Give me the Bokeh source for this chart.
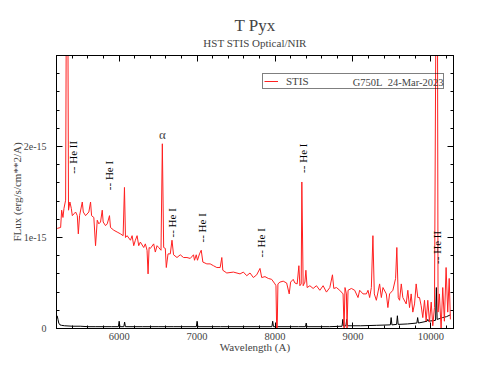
import math
from bokeh.plotting import figure
from bokeh.models import (Range1d, LinearAxis, FixedTicker, Label, Title, Legend,
                          LegendItem, CustomJSTickFormatter)
from bokeh.core.properties import value
from bokeh.embed import file_html
from bokeh.resources import INLINE

# ---------------- data (flux in units of 1e-15 erg/s/cm^2/A) ----------------
wave = [5205, 5249, 5262, 5279, 5292, 5313, 5326, 5338, 5350, 5368,
        5386, 5399, 5420, 5441, 5463, 5476, 5492, 5527, 5540, 5569,
        5611, 5633, 5646, 5675, 5697, 5719, 5739, 5761, 5783, 5795,
        5825, 5847, 5876, 5889, 5931, 5974, 6017, 6051, 6068, 6081,
        6102, 6145, 6166, 6187, 6208, 6230, 6251, 6272, 6315, 6336,
        6358, 6371, 6384, 6400, 6443, 6464, 6486, 6507, 6537, 6554,
        6571, 6592, 6605, 6627, 6656, 6678, 6698, 6742, 6784, 6826,
        6870, 6912, 6954, 6967, 6989, 7005, 7031, 7053, 7074, 7125,
        7168, 7210, 7253, 7296, 7317, 7330, 7381, 7466, 7551, 7594,
        7637, 7679, 7722, 7765, 7807, 7829, 7871, 7914, 7957, 7999,
        8012, 8021, 8028, 8037, 8063, 8105, 8149, 8182, 8200, 8233,
        8255, 8284, 8306, 8319, 8336, 8344, 8361, 8383, 8396, 8412,
        8447, 8489, 8532, 8575, 8617, 8660, 8703, 8737, 8754, 8788,
        8830, 8873, 8886, 8898, 8916, 8924, 8937, 8980, 9022, 9065,
        9086, 9129, 9172, 9193, 9214, 9236, 9256, 9274, 9300, 9342,
        9364, 9385, 9428, 9448, 9470, 9512, 9547, 9563, 9581, 9598,
        9620, 9640, 9683, 9704, 9726, 9747, 9768, 9790, 9811, 9832,
        9854, 9875, 9896, 9918, 9939, 9960, 9982, 10004, 10024, 10046,
        10070, 10082, 10092, 10109, 10131, 10152, 10173, 10195, 10216, 10235,
        10250]
flux = [1.10, 1.11, 1.30, 1.22, 1.32, 1.41, 4.50, 4.50, 1.30, 1.39,
        1.32, 1.24, 1.26, 1.28, 1.24, 1.04, 1.24, 1.39, 1.28, 1.24,
        1.28, 1.39, 1.24, 1.22, 0.91, 1.19, 1.15, 1.17, 1.30, 1.17,
        1.13, 1.15, 1.24, 1.11, 1.08, 1.06, 1.04, 1.02, 1.55, 1.00,
        1.02, 0.97, 1.02, 0.91, 0.97, 1.02, 0.91, 0.95, 0.89, 0.93,
        0.86, 0.60, 0.89, 0.88, 0.93, 0.84, 0.91, 0.89, 0.86, 2.03,
        0.89, 0.88, 0.67, 0.82, 0.82, 0.97, 0.81, 0.78, 0.81, 0.78,
        0.78, 0.77, 0.81, 0.75, 0.81, 0.75, 0.82, 0.86, 0.73, 0.71,
        0.71, 0.69, 0.67, 0.67, 0.78, 0.64, 0.61, 0.62, 0.60, 0.62,
        0.58, 0.61, 0.56, 0.59, 0.66, 0.56, 0.57, 0.55, 0.54, 0.49,
        0.47, 0.00, 0.00, 0.49, 0.51, 0.52, 0.50, 0.38, 0.51, 0.54,
        0.50, 0.49, 0.69, 0.47, 0.49, 1.61, 0.47, 0.51, 0.64, 0.45,
        0.47, 0.44, 0.47, 0.42, 0.47, 0.40, 0.45, 0.59, 0.44, 0.45,
        0.42, 0.38, 0.00, 0.45, 0.38, 0.00, 0.42, 0.44, 0.42, 0.34,
        0.42, 0.38, 0.38, 0.42, 0.34, 0.45, 1.02, 0.38, 0.31, 0.49,
        0.34, 0.45, 0.38, 0.23, 0.38, 0.42, 0.55, 0.89, 0.34, 0.31,
        0.49, 0.34, 0.27, 0.42, 0.23, 0.38, 0.18, 0.27, 0.49, 0.34,
        0.34, 0.25, 0.12, 0.31, 0.08, 0.31, 0.07, 0.29, 0.03, 0.23,
        4.50, 4.50, 0.18, 0.38, 0.00, 0.45, 0.08, 0.67, 0.18, 0.55,
        0.10]

err_wave = [5205, 5215, 5225, 5240, 5260, 5300, 5400, 5500, 5600, 5700,
            5800, 5900, 5990, 6000, 6010, 6060, 6070, 6080, 6300, 6500,
            6700, 6990, 7000, 7010, 7300, 7600, 7960, 7970, 7980, 8300,
            8390, 8400, 8410, 8700, 8860, 8870, 8880, 8910, 8920, 8930,
            9100, 9300, 9480, 9490, 9500, 9560, 9570, 9580, 9700, 9820,
            9830, 9840, 9950, 9960, 9970, 10060, 10070, 10080, 10150, 10200,
            10250]
err_flux = [0.14, 0.10, 0.06, 0.04, 0.035, 0.03, 0.025, 0.025, 0.02, 0.02,
            0.02, 0.02, 0.02, 0.08, 0.02, 0.02, 0.07, 0.02, 0.02, 0.02,
            0.02, 0.02, 0.08, 0.02, 0.02, 0.02, 0.02, 0.08, 0.02, 0.02,
            0.02, 0.06, 0.02, 0.02, 0.025, 0.10, 0.025, 0.03, 0.10, 0.03,
            0.03, 0.035, 0.04, 0.12, 0.04, 0.045, 0.14, 0.045, 0.05, 0.06,
            0.12, 0.06, 0.08, 0.10, 0.08, 0.09, 0.45, 0.10, 0.12, 0.13,
            0.15]

line_names = ["-- He II", "-- He I", "-- He I", "-- He I", "-- He I", "-- He I", "-- He II"]
line_waves = [5411, 5876, 6678, 7065, 7816, 8361, 10080]
label_y = [1.70, 1.52, 1.00, 0.945, 0.78, 1.71, 0.71]

x_major = [6000, 7000, 8000, 9000, 10000]
x_minor = list(range(5200, 10400, 200))
y_major = [0, 1, 2]
y_minor = [round(0.2 * i, 1) for i in range(16)]

FONT = "Liberation Serif"

p = figure(width=484, height=374, output_backend="svg", toolbar_location=None,
           title=None, x_range=Range1d(5196, 10290), y_range=Range1d(0, 3.0),
           min_border_left=56, min_border_right=31, min_border_top=55,
           min_border_bottom=46, x_axis_type=None, y_axis_type=None)
p.xgrid.visible = False
p.ygrid.visible = False
p.outline_line_color = "black"
p.background_fill_color = "white"
p.border_fill_color = "white"

xt = FixedTicker(ticks=x_major, minor_ticks=x_minor)
yt = FixedTicker(ticks=y_major, minor_ticks=y_minor)
yfmt = CustomJSTickFormatter(code="return tick == 0 ? '0' : tick.toFixed(0) + 'e-15';")
blank = CustomJSTickFormatter(code="return '';")


def style_axis(ax, show_labels):
    ax.major_tick_in = 6
    ax.major_tick_out = 0
    ax.minor_tick_in = 3
    ax.minor_tick_out = 0
    ax.axis_line_color = "black"
    ax.major_tick_line_color = "black"
    ax.minor_tick_line_color = "black"
    ax.major_label_text_font = FONT
    ax.axis_label_text_font = FONT
    ax.axis_label_text_font_style = "normal"
    ax.major_label_text_font_size = "10.5px"
    ax.axis_label_text_font_size = "11px"
    if not show_labels:
        ax.formatter = blank
        ax.major_label_text_color = None
        ax.major_label_standoff = 0
        ax.axis_label = None


bottom = LinearAxis(ticker=xt, axis_label="Wavelength (A)")
style_axis(bottom, True)
bottom.major_label_standoff = 4
bottom.axis_label_standoff = -2
p.add_layout(bottom, "below")

left = LinearAxis(ticker=yt, formatter=yfmt, axis_label="FLux (erg/s/cm**2/A)")
style_axis(left, True)
left.major_label_text_font_size = "10px"
left.major_label_standoff = 10
left.axis_label_standoff = -2
p.add_layout(left, "left")

top = LinearAxis(ticker=xt)
style_axis(top, False)
p.add_layout(top, "above")

right = LinearAxis(ticker=yt)
style_axis(right, False)
p.add_layout(right, "right")

p.add_layout(Title(text="HST STIS Optical/NIR", align="center", text_font=FONT,
                   text_font_size="11px", text_font_style="normal", standoff=13,
                   text_line_height=1.0), "above")
p.add_layout(Title(text="T Pyx", align="center", text_font=FONT,
                   text_font_size="17px", text_font_style="normal", standoff=-12,
                   text_line_height=0.7), "above")

err_r = p.line(err_wave, err_flux, line_color="black", line_width=1)
spec = p.line(wave, flux, line_color="#ff2020", line_width=1)

p.text(x=line_waves, y=label_y, text=line_names, angle=math.pi / 2,
       text_align="left", text_baseline="middle", text_font=value(FONT),
       text_font_size="11px", text_color="black")
p.add_layout(Label(x=6554, y=2.13, text="α", text_align="center", text_baseline="middle",
                   text_font=FONT, text_font_size="13px"))

legend = Legend(items=[LegendItem(label="STIS", renderers=[spec])],
                location=(206, 239), orientation="vertical",
                padding=1, margin=0, spacing=0,
                glyph_width=14, glyph_height=8, label_height=8,
                label_width=156, label_standoff=8,
                label_text_font=FONT, label_text_font_size="11px",
                border_line_color="black", border_line_width=1,
                background_fill_alpha=0)
p.add_layout(legend)
p.add_layout(Label(x=10161, y=2.70, text="G750L\u00a0\u00a024-Mar-2023", text_align="right",
                   text_baseline="middle", text_font=FONT, text_font_size="10.5px"))

open("out.html", "w").write(file_html(p, INLINE))
